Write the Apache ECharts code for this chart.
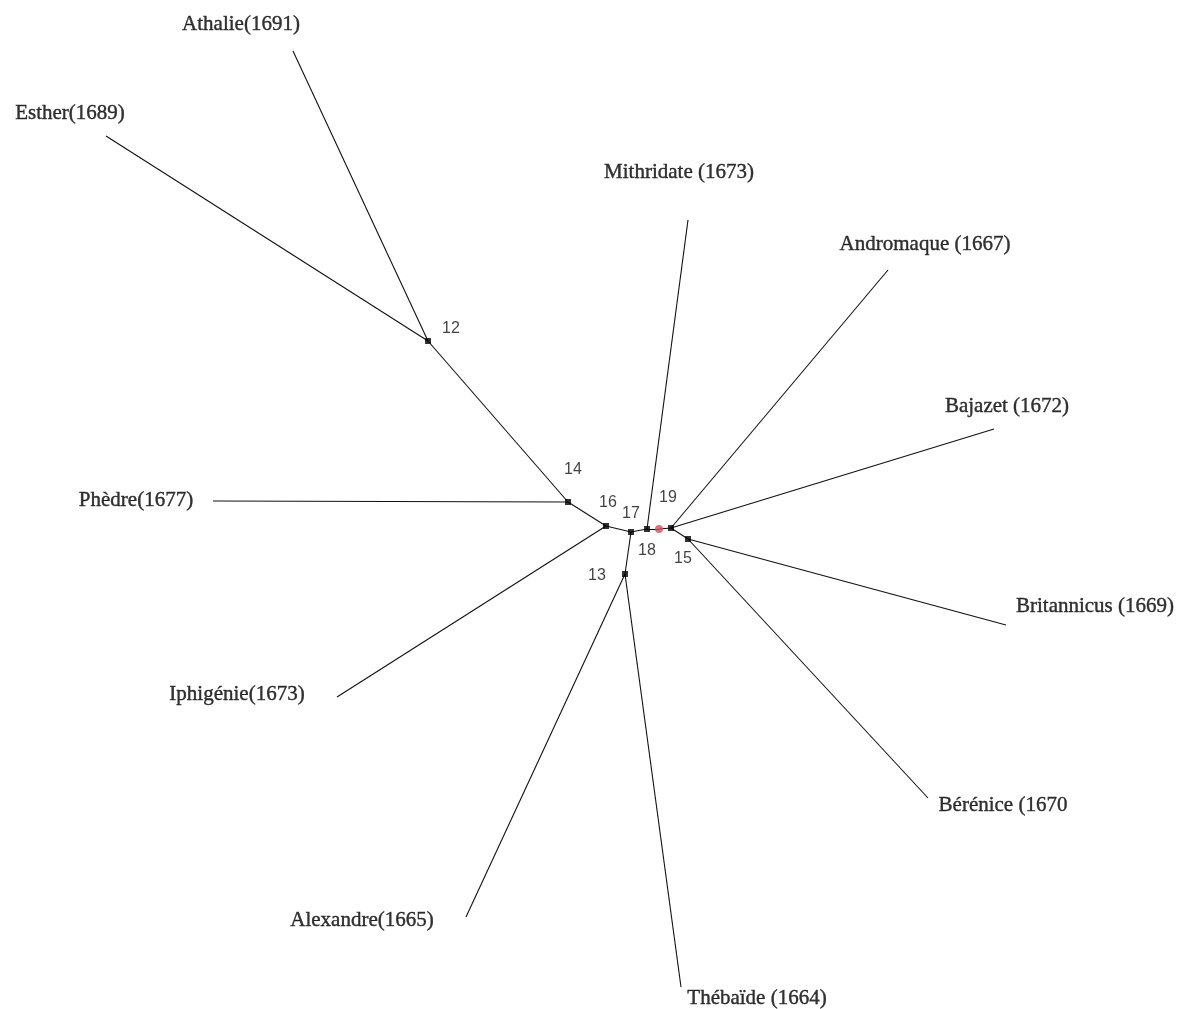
<!DOCTYPE html>
<html>
<head>
<meta charset="utf-8">
<script src="https://cdn.jsdelivr.net/npm/echarts@6/dist/echarts.min.js"></script>
<style>
html,body{margin:0;padding:0;background:#fff;}
#c{width:1188px;height:1009px;}
</style>
</head>
<body>
<div id="c"></div>
<script>
// Internal nodes of the tree (picture coordinates)
var nodeNames = ['12', '14', '16', '17', '18', '19', '15', '13'];
var nodeX = [428, 568, 606, 631, 647, 671, 688, 625];
var nodeY = [341, 502, 526, 532, 529, 528, 539, 574];
// Where each node number is written
var nodeLabelX = [451, 573, 608, 631, 647, 668, 683, 597];
var nodeLabelY = [329, 470, 503, 514, 551, 498, 559, 576];

// Root (red) point
var rootName = 'root';
var rootX = 659;
var rootY = 529;

// Leaves: play titles, branch ends, parent node
var leafNames = ['Athalie(1691)', 'Esther(1689)', 'Phèdre(1677)', 'Iphigénie(1673)',
  'Alexandre(1665)', 'Thébaïde (1664)', 'Mithridate (1673)', 'Andromaque (1667)',
  'Bajazet (1672)', 'Britannicus (1669)', 'Bérénice (1670'];
var leafX = [293, 106, 213, 337, 466, 681, 688, 888, 994, 1006, 928];
var leafY = [51, 136, 501, 697, 917, 987, 220, 270, 429, 625, 798];
var leafParent = ['12', '12', '14', '16', '13', '13', '18', '19', '19', '15', '15'];
// Where each title is written (centre)
var leafLabelX = [241, 70, 136, 237, 362, 757, 679, 925, 1007, 1095, 1003];
var leafLabelY = [24, 113, 500, 694, 920, 998, 172, 244, 406, 606, 805];

// Internal edges
var innerEdges = [['12', '14'], ['14', '16'], ['16', '17'], ['17', '13'], ['17', '18'],
  ['18', 'root'], ['root', '19'], ['19', '15']];

function pos(name) {
  if (name === rootName) return [rootX, rootY];
  var i = nodeNames.indexOf(name);
  return [nodeX[i], nodeY[i]];
}

var edgeData = [];
innerEdges.forEach(function (e) { edgeData.push({ coords: [pos(e[0]), pos(e[1])] }); });
leafNames.forEach(function (n, i) { edgeData.push({ coords: [pos(leafParent[i]), [leafX[i], leafY[i]]] }); });

var chart = echarts.init(document.getElementById('c'), null, { renderer: 'canvas' });
chart.setOption({
  backgroundColor: '#ffffff',
  animation: false,
  grid: { left: 0, right: 0, top: 0, bottom: 0 },
  xAxis: { type: 'value', min: 0, max: 1188, show: false },
  yAxis: { type: 'value', min: 0, max: 1009, inverse: true, show: false },
  series: [
    {
      type: 'lines',
      coordinateSystem: 'cartesian2d',
      lineStyle: { color: '#111', width: 1.1, opacity: 1 },
      data: edgeData,
      silent: true
    },
    {
      type: 'scatter',
      symbol: 'rect',
      symbolSize: 6,
      itemStyle: { color: '#000' },
      data: nodeNames.map(function (n, i) { return [nodeX[i], nodeY[i]]; }),
      silent: true
    },
    {
      type: 'scatter',
      symbol: 'circle',
      symbolSize: 8,
      itemStyle: { color: '#d0505e' },
      data: [[rootX, rootY]],
      silent: true
    },
    {
      type: 'scatter',
      symbolSize: 0,
      data: nodeNames.map(function (n, i) { return { value: [nodeLabelX[i], nodeLabelY[i]], name: n }; }),
      label: {
        show: true, position: 'inside', formatter: '{b}',
        fontFamily: 'Liberation Sans', fontSize: 16, color: '#111',
        textBorderWidth: 0
      },
      silent: true
    },
    {
      type: 'scatter',
      symbolSize: 0,
      data: leafNames.map(function (n, i) { return { value: [leafLabelX[i], leafLabelY[i]], name: n }; }),
      label: {
        show: true, position: 'inside', formatter: '{b}',
        fontFamily: 'Liberation Serif', fontSize: 21, color: '#000',
        textBorderColor: '#000', textBorderWidth: 0.4
      },
      silent: true
    }
  ]
});
</script>
</body>
</html>
